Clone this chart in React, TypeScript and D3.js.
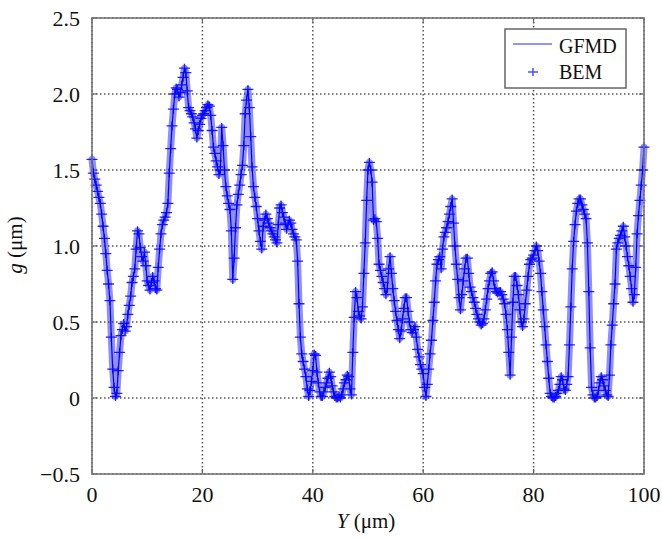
import React from "react";
import * as d3 from "d3";

const xStep = 0.25;
const gValues: number[] = [
  1.57, 1.48, 1.44, 1.40, 1.36, 1.32, 1.28, 1.21, 1.13, 1.05, 0.95, 0.84, 0.75, 0.64, 0.40, 0.19,
  0.07, 0.01, 0.03, 0.18, 0.30, 0.41, 0.45, 0.49, 0.44, 0.47, 0.55, 0.61, 0.67, 0.76, 0.80, 0.85,
  0.98, 1.10, 1.08, 0.99, 0.93, 0.90, 0.96, 0.87, 0.77, 0.74, 0.71, 0.76, 0.80, 0.77, 0.72, 0.71,
  0.86, 0.98, 1.08, 1.14, 1.17, 1.19, 1.22, 1.28, 1.48, 1.64, 1.79, 1.90, 2.00, 2.04, 2.03, 1.98,
  2.01, 2.06, 2.11, 2.17, 2.14, 2.02, 1.91, 1.89, 1.87, 1.85, 1.81, 1.77, 1.71, 1.76, 1.80, 1.84,
  1.86, 1.87, 1.89, 1.91, 1.93, 1.92, 1.86, 1.76, 1.65, 1.61, 1.56, 1.52, 1.47, 1.50, 1.78, 1.66,
  1.50, 1.39, 1.33, 1.28, 1.24, 1.10, 0.78, 0.92, 1.12, 1.27, 1.34, 1.40, 1.47, 1.53, 1.66, 1.87,
  1.96, 2.03, 1.91, 1.72, 1.52, 1.39, 1.32, 1.26, 1.18, 1.10, 1.03, 0.98, 1.13, 1.17, 1.21, 1.18,
  1.15, 1.12, 1.10, 1.08, 1.06, 1.04, 1.02, 1.14, 1.25, 1.27, 1.22, 1.19, 1.15, 1.11, 1.14, 1.17,
  1.15, 1.11, 1.08, 1.06, 1.04, 0.90, 0.62, 0.40, 0.29, 0.24, 0.19, 0.14, 0.06, 0.01, 0.05, 0.11,
  0.18, 0.29, 0.28, 0.17, 0.10, 0.04, 0.01, 0.01, 0.04, 0.07, 0.10, 0.13, 0.17, 0.14, 0.08, 0.04,
  0.01, 0.00, 0.00, 0.01, 0.00, 0.02, 0.06, 0.10, 0.12, 0.15, 0.14, 0.06, 0.02, 0.30, 0.53, 0.70,
  0.66, 0.57, 0.54, 0.52, 0.60, 0.82, 1.02, 1.30, 1.50, 1.55, 1.50, 1.42, 1.17, 1.18, 1.16, 1.05,
  0.88, 0.84, 0.80, 0.76, 0.72, 0.68, 0.72, 0.85, 0.93, 0.82, 0.72, 0.64, 0.57, 0.51, 0.45, 0.39,
  0.44, 0.52, 0.59, 0.66, 0.66, 0.57, 0.50, 0.45, 0.43, 0.45, 0.47, 0.40, 0.32, 0.27, 0.22, 0.19,
  0.16, 0.07, 0.01, 0.09, 0.19, 0.29, 0.38, 0.51, 0.63, 0.77, 0.88, 0.91, 0.93, 0.85, 0.98, 1.06,
  1.09, 1.12, 1.16, 1.21, 1.26, 1.31, 1.15, 1.00, 0.88, 0.78, 0.66, 0.58, 0.68, 0.77, 0.85, 0.92,
  0.92, 0.82, 0.73, 0.70, 0.66, 0.63, 0.59, 0.55, 0.52, 0.50, 0.48, 0.49, 0.52, 0.58, 0.65, 0.72,
  0.77, 0.82, 0.83, 0.77, 0.72, 0.70, 0.69, 0.70, 0.70, 0.68, 0.65, 0.62, 0.55, 0.45, 0.30, 0.15,
  0.40, 0.63, 0.80, 0.80, 0.74, 0.68, 0.58, 0.50, 0.47, 0.52, 0.62, 0.71, 0.80, 0.88, 0.91, 0.92,
  0.94, 0.97, 1.00, 0.97, 0.90, 0.82, 0.70, 0.58, 0.47, 0.35, 0.24, 0.13, 0.03, 0.01, 0.00, 0.00,
  0.01, 0.03, 0.05, 0.09, 0.14, 0.12, 0.06, 0.05, 0.09, 0.14, 0.35, 0.60, 0.85, 1.03, 1.14, 1.23,
  1.28, 1.31, 1.31, 1.27, 1.24, 1.21, 1.18, 1.02, 0.70, 0.33, 0.07, 0.02, 0.00, 0.00, 0.01, 0.05,
  0.10, 0.14, 0.12, 0.08, 0.05, 0.02, 0.01, 0.15, 0.35, 0.48, 0.62, 0.75, 0.98, 1.02, 1.05, 1.07,
  1.10, 1.13, 1.06, 1.00, 0.93, 0.87, 0.80, 0.72, 0.63, 0.68, 0.86, 1.08, 1.20, 1.30, 1.40, 1.50,
  1.65,
];

const xTicks = [0, 20, 40, 60, 80, 100];
const yTicks = [-0.5, 0, 0.5, 1.0, 1.5, 2.0, 2.5];
const yTickLabels = ["\u22120.5", "0", "0.5", "1.0", "1.5", "2.0", "2.5"];
const seriesNames = ["GFMD", "BEM"];

const W = 662;
const H = 539;
const left = 92;
const right = 644;
const top = 18;
const bottom = 474;

export default function App() {
  const x = d3.scaleLinear().domain([0, 100]).range([left, right]);
  const y = d3.scaleLinear().domain([-0.5, 2.5]).range([bottom, top]);
  const pts = gValues.map((g, i) => [i * xStep, g] as [number, number]);
  const line = d3
    .line<[number, number]>()
    .x((d) => x(d[0]))
    .y((d) => y(d[1]));
  const path = line(pts) || "";
  const font = "'Liberation Serif', 'Times New Roman', Times, serif";
  const tstyle = { fontFamily: font };
  const blue = "#0000ff";
  const mh = 5.5;
  const mv = 4.5;
  const cross = (cx: number, cy: number) =>
    `M${cx - mh},${cy}H${cx + mh}M${cx},${cy - mv}V${cy + mv}`;
  const markerPath = pts.map((d) => cross(x(d[0]), y(d[1]))).join("");

  return (
    <svg
      width={W}
      height={H}
      style={{ position: "absolute", left: 0, top: 0, background: "#fff" }}
    >
      <rect x={0} y={0} width={W} height={H} fill="#fff" />
      {xTicks.map((t) => (
        <line
          key={"gx" + t}
          x1={x(t)}
          x2={x(t)}
          y1={top}
          y2={bottom}
          stroke="#555"
          strokeWidth={1.5}
          strokeDasharray="1.5,2.5"
        />
      ))}
      {yTicks.map((t) => (
        <line
          key={"gy" + t}
          x1={left}
          x2={right}
          y1={y(t)}
          y2={y(t)}
          stroke="#555"
          strokeWidth={1.5}
          strokeDasharray="1.5,2.5"
        />
      ))}
      {xTicks.map((t) => (
        <g key={"tx" + t}>
          <line x1={x(t)} x2={x(t)} y1={bottom} y2={bottom - 5} stroke="#666" strokeWidth={1.2} />
          <line x1={x(t)} x2={x(t)} y1={top} y2={top + 5} stroke="#666" strokeWidth={1.2} />
        </g>
      ))}
      {yTicks.map((t) => (
        <g key={"ty" + t}>
          <line x1={left} x2={left + 5} y1={y(t)} y2={y(t)} stroke="#666" strokeWidth={1.2} />
          <line x1={right} x2={right - 5} y1={y(t)} y2={y(t)} stroke="#666" strokeWidth={1.2} />
        </g>
      ))}
      <path d={path} fill="none" stroke="#2020ff" strokeOpacity={0.5} strokeWidth={7} strokeLinejoin="round" strokeLinecap="round" />
      <path d={markerPath} fill="none" stroke={blue} strokeOpacity={0.85} strokeWidth={1.3} />
      <path d={path} fill="none" stroke={blue} strokeWidth={1.2} />
      <rect
        x={left}
        y={top}
        width={right - left}
        height={bottom - top}
        fill="none"
        stroke="#777"
        strokeWidth={1.6}
      />
      {xTicks.map((t) => (
        <text key={"lx" + t} x={x(t)} y={502} textAnchor="middle" fontSize={22} fill="#111" style={tstyle}>
          {t}
        </text>
      ))}
      {yTicks.map((t, i) => (
        <text key={"ly" + t} x={80} y={y(t) + 7.5} textAnchor="end" fontSize={22} fill="#111" style={tstyle}>
          {yTickLabels[i]}
        </text>
      ))}
      <text x={366} y={528} textAnchor="middle" fontSize={21} fill="#111" style={tstyle}>
        <tspan fontStyle="italic">Y</tspan> (μm)
      </text>
      <text
        transform={`translate(22,245) rotate(-90)`}
        textAnchor="middle"
        fontSize={21}
        fill="#111"
        style={tstyle}
      >
        <tspan fontStyle="italic">g</tspan> (μm)
      </text>
      <rect x={505} y={29} width={121} height={59} fill="#fff" stroke="#666" strokeWidth={1.5} />
      <line x1={513} x2={552} y1={44} y2={44} stroke="#6f6fff" strokeWidth={1.5} />
      <path d={`M528,72H538M533,68V76`} stroke="#5050ff" strokeWidth={1.5} fill="none" />
      <text x={559} y={53} fontSize={20} fill="#111" style={tstyle}>
        {seriesNames[0]}
      </text>
      <text x={559} y={79} fontSize={20} fill="#111" style={tstyle}>
        {seriesNames[1]}
      </text>
    </svg>
  );
}
